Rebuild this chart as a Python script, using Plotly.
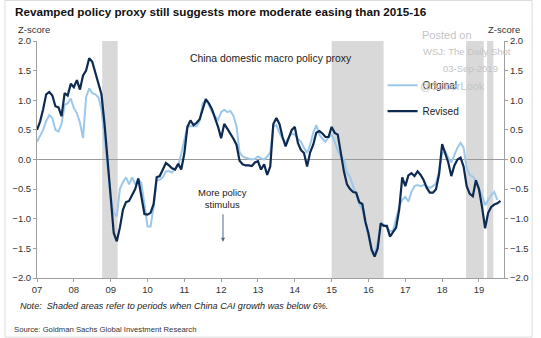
import plotly.graph_objects as go

# ---- data (monthly, starting Jan 2007) ----
start_year = 2007
revised = [0.50, 0.64, 0.85, 1.10, 1.14, 1.08, 0.90, 0.88, 0.73, 1.12,
           1.08, 1.28, 1.22, 1.34, 1.18, 1.42, 1.50, 1.71, 1.65, 1.45,
           1.30, 1.10, 0.60, 0.00, -0.70, -1.24, -1.38, -1.15, -0.85, -0.72,
           -0.70, -0.60, -0.50, -0.32, -0.60, -0.92, -0.93, -0.90, -0.75, -0.30,
           -0.28, -0.17, -0.06, -0.10, -0.15, -0.17, -0.07, -0.17, 0.10, 0.55,
           0.66, 0.58, 0.62, 0.68, 0.87, 1.02, 0.95, 0.85, 0.70, 0.55,
           0.36, 0.60, 0.52, 0.44, 0.35, 0.25, -0.02, -0.08, -0.10, -0.10,
           -0.11, -0.05, -0.03, -0.17, -0.08, -0.26, -0.12, 0.60, 0.70, 0.60,
           0.38, 0.22, 0.38, 0.50, 0.55, 0.28, 0.16, 0.11, -0.12, 0.12,
           0.25, 0.45, 0.48, 0.44, 0.38, 0.38, 0.55, 0.45, 0.42, 0.10,
           -0.20, -0.42, -0.50, -0.55, -0.56, -0.72, -0.75, -1.05, -1.25, -1.52,
           -1.64, -1.50, -1.08, -1.12, -1.12, -1.30, -1.22, -1.15, -0.85, -0.30,
           -0.45, -0.27, -0.23, -0.28, -0.20, -0.26, -0.35, -0.48, -0.56, -0.56,
           -0.50, -0.25, 0.26, 0.10, -0.05, -0.28, -0.10, 0.00, 0.03, -0.12,
           -0.45, -0.58, -0.62, -0.35, -0.50, -0.80, -1.16, -0.90, -0.80, -0.76,
           -0.74, -0.70]
original = [0.30, 0.40, 0.50, 0.65, 0.75, 0.70, 0.50, 0.47, 0.60, 0.92,
            0.95, 1.03, 0.87, 0.78, 0.62, 0.36, 1.05, 1.20, 1.12, 1.10,
            1.05, 0.85, 0.40, -0.15, -0.60, -0.90, -0.96, -0.50, -0.38, -0.30,
            -0.42, -0.30, -0.42, -0.33, -0.40, -0.75, -1.13, -1.13, -0.80, -0.34,
            -0.34, -0.30, -0.20, -0.20, -0.22, -0.15, -0.11, 0.10, 0.30, 0.55,
            0.56, 0.56, 0.56, 0.65, 0.95, 1.00, 0.92, 0.80, 0.74, 0.67,
            0.80, 0.84, 0.80, 0.82, 0.74, 0.56, 0.12, 0.05, 0.03, 0.02,
            0.00, 0.01, 0.05, 0.02, 0.00, 0.05, 0.12, 0.56, 0.58, 0.45,
            0.35, 0.28, 0.38, 0.44, 0.42, 0.35, 0.30, 0.20, 0.11, 0.25,
            0.45, 0.58, 0.42, 0.35, 0.30, 0.38, 0.42, 0.30, 0.15, 0.05,
            0.00, -0.22, -0.30, -0.45, -0.60, -0.75, -0.85, -1.10, -1.30, -1.50,
            -1.60, -1.40, -1.08, -1.10, -1.16, -1.21, -1.20, -1.00, -0.80, -0.68,
            -0.63, -0.71, -0.55, -0.45, -0.43, -0.45, -0.43, -0.45, -0.48, -0.45,
            -0.40, -0.20, 0.10, 0.14, 0.03, -0.05, 0.08, 0.20, 0.28, 0.20,
            -0.15, -0.26, -0.29, -0.35, -0.50, -0.60, -0.77, -0.68, -0.60, -0.55,
            -0.68]
# periods when China CAI growth was below 6% (decimal years)
shaded_periods = [(2008.77, 2009.19), (2015.0, 2016.41), (2018.65, 2019.13), (2019.22, 2019.39)]
year_ticks = list(range(2007, 2020))
year_labels = [f"{y % 100:02d}" for y in year_ticks]
y_ticks = [2.0, 1.5, 1.0, 0.5, 0.0, -0.5, -1.0, -1.5, -2.0]

x_rev = [start_year + i / 12 for i in range(len(revised))]
x_orig = [start_year + i / 12 for i in range(len(original))]

FONT = "Liberation Sans, Arial, sans-serif"
fig = go.Figure()
fig.add_trace(go.Scatter(x=x_orig, y=original, mode="lines", name="Original",
                         line=dict(color="#9cc8ec", width=2), legendgroup="a"))
fig.add_trace(go.Scatter(x=x_rev, y=revised, mode="lines", name="Revised",
                         line=dict(color="#0c2a52", width=2.2), legendgroup="b"))
# invisible trace to carry the right-hand axis
fig.add_trace(go.Scatter(x=x_rev, y=revised, yaxis="y2", mode="lines", opacity=0,
                         showlegend=False, hoverinfo="skip"))

shapes = []
for a, b in shaded_periods:
    shapes.append(dict(type="rect", xref="x", yref="paper", x0=a, x1=b, y0=0, y1=1,
                       fillcolor="#d9d9d9", line=dict(width=0), layer="below"))
shapes.append(dict(type="line", xref="paper", yref="y", x0=0, x1=1, y0=0, y1=0,
                   line=dict(color="#9a9a9a", width=1), layer="below"))
# outer frame
shapes.append(dict(type="rect", xref="paper", yref="paper", x0=-0.0686, x1=1.0602,
                   y0=-0.2495, y1=1.1707, line=dict(color="#dcdcdc", width=1)))

axis_common = dict(range=[-2, 2], tickvals=y_ticks, tickformat=".1f",
                   showgrid=False, zeroline=False, showline=True, linecolor="#a0a0a0",
                   ticks="outside", ticklen=3, tickcolor="#a0a0a0",
                   tickfont=dict(size=9.5, color="#333333", family=FONT))

fig.update_layout(
    width=541, height=338,
    margin=dict(l=33, r=29, t=41, b=60),
    paper_bgcolor="white", plot_bgcolor="white",
    font=dict(family=FONT, color="#222222"),
    xaxis=dict(range=[2007.0, 2019.68], tickvals=year_ticks, ticktext=year_labels,
               showgrid=False, zeroline=False, showline=True, linecolor="#a0a0a0",
               ticks="outside", ticklen=3, tickcolor="#a0a0a0",
               tickfont=dict(size=9.5, color="#333333", family=FONT)),
    yaxis=dict(**axis_common),
    yaxis2=dict(**axis_common, overlaying="y", side="right"),
    showlegend=True,
    legend=dict(x=0.74, y=0.875, xanchor="left", yanchor="top", traceorder="grouped",
                tracegroupgap=7, bgcolor="rgba(0,0,0,0)",
                font=dict(size=10, color="#222222", family=FONT)),
    shapes=shapes,
)

annotations = [
    dict(text="<b>Revamped policy proxy still suggests more moderate easing than 2015-16</b>",
         x=8, y=12, font=dict(size=11.7, color="#111111")),
    dict(text="Z-score", x=30, y=30, xanchor="center", font=dict(size=9.5, color="#333333")),
    dict(text="Z-score", x=512, y=30, xanchor="center", font=dict(size=9.5, color="#333333")),
    dict(text="<i>Note:  Shaded areas refer to periods when China CAI growth was below 6%.</i>",
         x=14, y=306, font=dict(size=9.1, color="#222222")),
    dict(text="Source: Goldman Sachs Global Investment Research",
         x=7, y=329, font=dict(size=7.7, color="#333333")),
    dict(text="Posted on", x=426, y=35, font=dict(size=11, color="#c4c4c4")),
    dict(text="WSJ: The Daily Shot", x=427, y=51, font=dict(size=9.5, color="#c4c4c4")),
    dict(text="03-Sep-2019", x=508, y=68, xanchor="right", font=dict(size=9.5, color="#c4c4c4")),
    dict(text="@SoberLook", x=424, y=86, font=dict(size=11, color="#c4c4c4")),
]
plot_w = 541 - 33 - 29
plot_h = 338 - 41 - 60
for a in annotations:
    px, py = a.pop("x"), a.pop("y")
    fig.add_annotation(xref="paper", yref="paper",
                       x=(px - 33) / plot_w, y=(338 - 60 - py) / plot_h,
                       xanchor=a.pop("xanchor", "left"), yanchor="middle",
                       showarrow=False, **a)

# chart labels in data space
fig.add_annotation(x=2013.34, y=1.7, xref="x", yref="y", text="China domestic macro policy proxy",
                   showarrow=False, font=dict(size=10.4, color="#222222"))
fig.add_annotation(x=2012.05, y=-0.65, xref="x", yref="y", text="More policy<br>stimulus",
                   showarrow=False, font=dict(size=9.5, color="#222222"))
fig.add_annotation(x=2012.05, y=-1.39, ax=2012.05, ay=-0.9, xref="x", yref="y",
                   axref="x", ayref="y", text="", showarrow=True, arrowhead=2,
                   arrowsize=0.8, arrowwidth=1, arrowcolor="#4a6a8a")

fig.write_html("out.html")
